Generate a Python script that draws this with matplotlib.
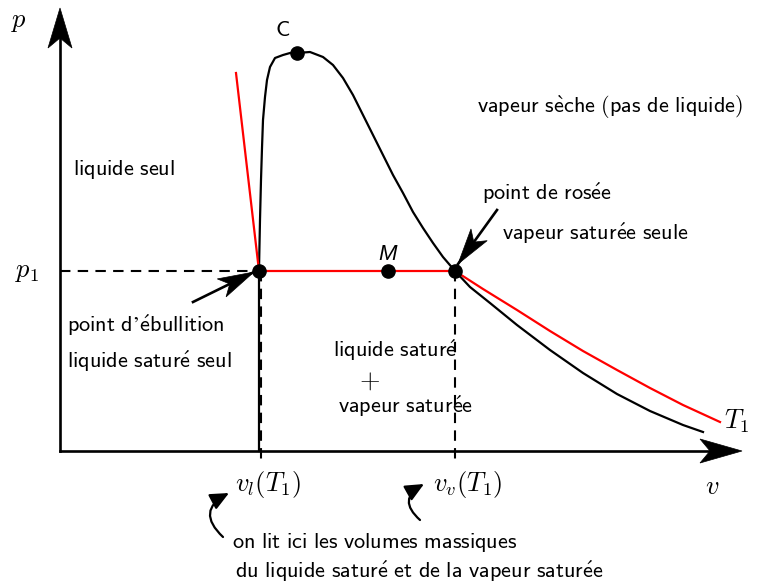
import matplotlib
matplotlib.use("Agg")
import matplotlib.pyplot as plt
from matplotlib.patches import Polygon
import numpy as np

plt.rcParams["mathtext.fontset"] = "cm"

# ---------------------------------------------------------------------------
# Values (v, p in picture units, origin at the axes)
# ---------------------------------------------------------------------------
sat_v = [199, 199, 200, 201, 202, 203, 205, 207, 210, 215, 223, 230, 237,
         250, 263, 273, 283, 293, 303, 313, 323, 333, 343, 353, 363, 373,
         383, 395, 410, 430, 457, 490, 523, 557, 590, 623, 643]
sat_p = [0, 181, 231, 271, 303, 331, 354, 371, 384, 393, 396, 398, 398,
         399, 394, 386, 373, 356, 336, 316, 296, 276, 258, 239, 223, 208,
         194, 180, 164, 148, 126, 101, 78, 57, 40, 26, 19]

p1 = 180
v_l = 199
v_v = 395
v_M = 328
C_point = (237, 398)

liq_v = [176, 199]
liq_p = [378, 180]
vap_v = [395, 423, 457, 490, 523, 557, 590, 623, 660]
vap_p = [180, 162, 141, 120, 100, 81, 63, 46, 29]

v_axis_end = 682
p_axis_end = 443

region_labels = [
    ("liquide seul", 13, 276),
    ("vapeur sèche (pas de liquide)", 417, 338),
    ("point de rosée", 422, 251),
    ("vapeur saturée seule", 442, 211),
    ("point d\u2019ébullition", 7, 119),
    ("liquide saturé seul", 7, 83),
    ("liquide saturé", 273, 94),
    ("vapeur saturée", 278, 38),
    ("on lit ici les volumes massiques", 172, -97),
    ("du liquide saturé et de la vapeur saturée", 175, -127),
]

math_labels = [
    (r"$p$", -41, 430),
    (r"$p_1$", -33, 180),
    (r"$+$", 309, 70),
    (r"$v_l(T_1)$", 208, -34),
    (r"$v_v(T_1)$", 408, -34),
    (r"$v$", 652, -36),
    (r"$T_1$", 677, 30),
]

# straight arrows: tail, tip
big_arrows = [((133, 149), (194, 179)), ((437, 241), (398, 187))]
# curved arrows: tail, tip
curved_arrows = [((163, -86), (169, -42)), ((360, -69), (364, -33))]


def sf(s):
    """French text as computer-modern sans mathtext."""
    s = (s.replace(" ", r"\ ").replace("é", r"\acute{e}")
         .replace("è", r"\grave{e}"))
    return r"$\mathsf{" + s + "}$"


def stealth(ax, tail, tip, length=38, half_width=11, notch=9, color="black"):
    """Draw a LaTeX-like stealth arrow head at tip, pointing from tail."""
    tail = np.asarray(tail, float)
    tip = np.asarray(tip, float)
    d = tip - tail
    d /= np.hypot(*d)
    n = np.array([-d[1], d[0]])
    back = tip - d * length
    pts = [tip, back + n * half_width, tip - d * (length - notch),
           back - n * half_width]
    ax.add_patch(Polygon(pts, closed=True, facecolor=color,
                         edgecolor=color, lw=0.5, zorder=6))


fig = plt.figure(figsize=(7.61, 5.84), dpi=100)
ax = fig.add_axes([0, 0, 1, 1])
ax.set_xlim(-60, 701)
ax.set_ylim(-133, 451)
ax.axis("off")

# axes with arrows
ax.plot([0, v_axis_end - 30], [0, 0], color="black", lw=1.9, zorder=3)
ax.plot([0, 0], [0, p_axis_end - 30], color="black", lw=1.9, zorder=3)
stealth(ax, (0, 0), (v_axis_end, 0), length=42, half_width=12, notch=10)
stealth(ax, (0, 0), (0, p_axis_end), length=40, half_width=12, notch=10)

# saturation curve
ax.plot(sat_v, sat_p, color="black", lw=1.6, solid_joinstyle="round",
        zorder=4)

# isotherm T1
ax.plot(liq_v, liq_p, color="red", lw=1.6, zorder=4)
ax.plot([v_l, v_v], [p1, p1], color="red", lw=1.6, zorder=4)
ax.plot(vap_v, vap_p, color="red", lw=1.6, solid_joinstyle="round",
        zorder=4)

# dashed guides
dash = dict(color="black", lw=1.5, dashes=(5, 3.5), zorder=3)
ax.plot([0, v_l], [p1, p1], **dash)
ax.plot([v_l + 2, v_l + 2], [p1, -10], **dash)
ax.plot([v_v, v_v], [p1, -10], **dash)

# points
ax.plot([v_l, v_M, v_v, C_point[0]], [p1, p1, p1, C_point[1]], "o",
        color="black", ms=9.5, zorder=7)

ax.text(C_point[0] - 14, C_point[1] + 23, sf("C"), fontsize=16,
        ha="center", va="center")
ax.text(v_M, p1 + 17, "M", family="Liberation Sans", style="italic",
        fontsize=16, ha="center", va="center")

for txt, x, y in region_labels:
    ax.text(x, y, sf(txt), fontsize=16, ha="left", va="baseline", zorder=5)

for txt, x, y in math_labels:
    ax.text(x, y, txt, fontsize=19, ha="center", va="center", zorder=5)

for tail, tip in big_arrows:
    ax.plot([tail[0], tip[0]], [tail[1], tip[1]], color="black", lw=1.9,
            zorder=5)
    stealth(ax, tail, tip, length=36, half_width=10, notch=9)

for tail, tip in curved_arrows:
    ax.annotate("", xy=tip, xytext=tail,
                arrowprops=dict(arrowstyle="-|>,head_length=0.7,head_width=0.32",
                                connectionstyle="arc3,rad=-0.7",
                                color="black", lw=1.6, shrinkA=0, shrinkB=0,
                                mutation_scale=16))

fig.savefig("out.png", dpi=100)
